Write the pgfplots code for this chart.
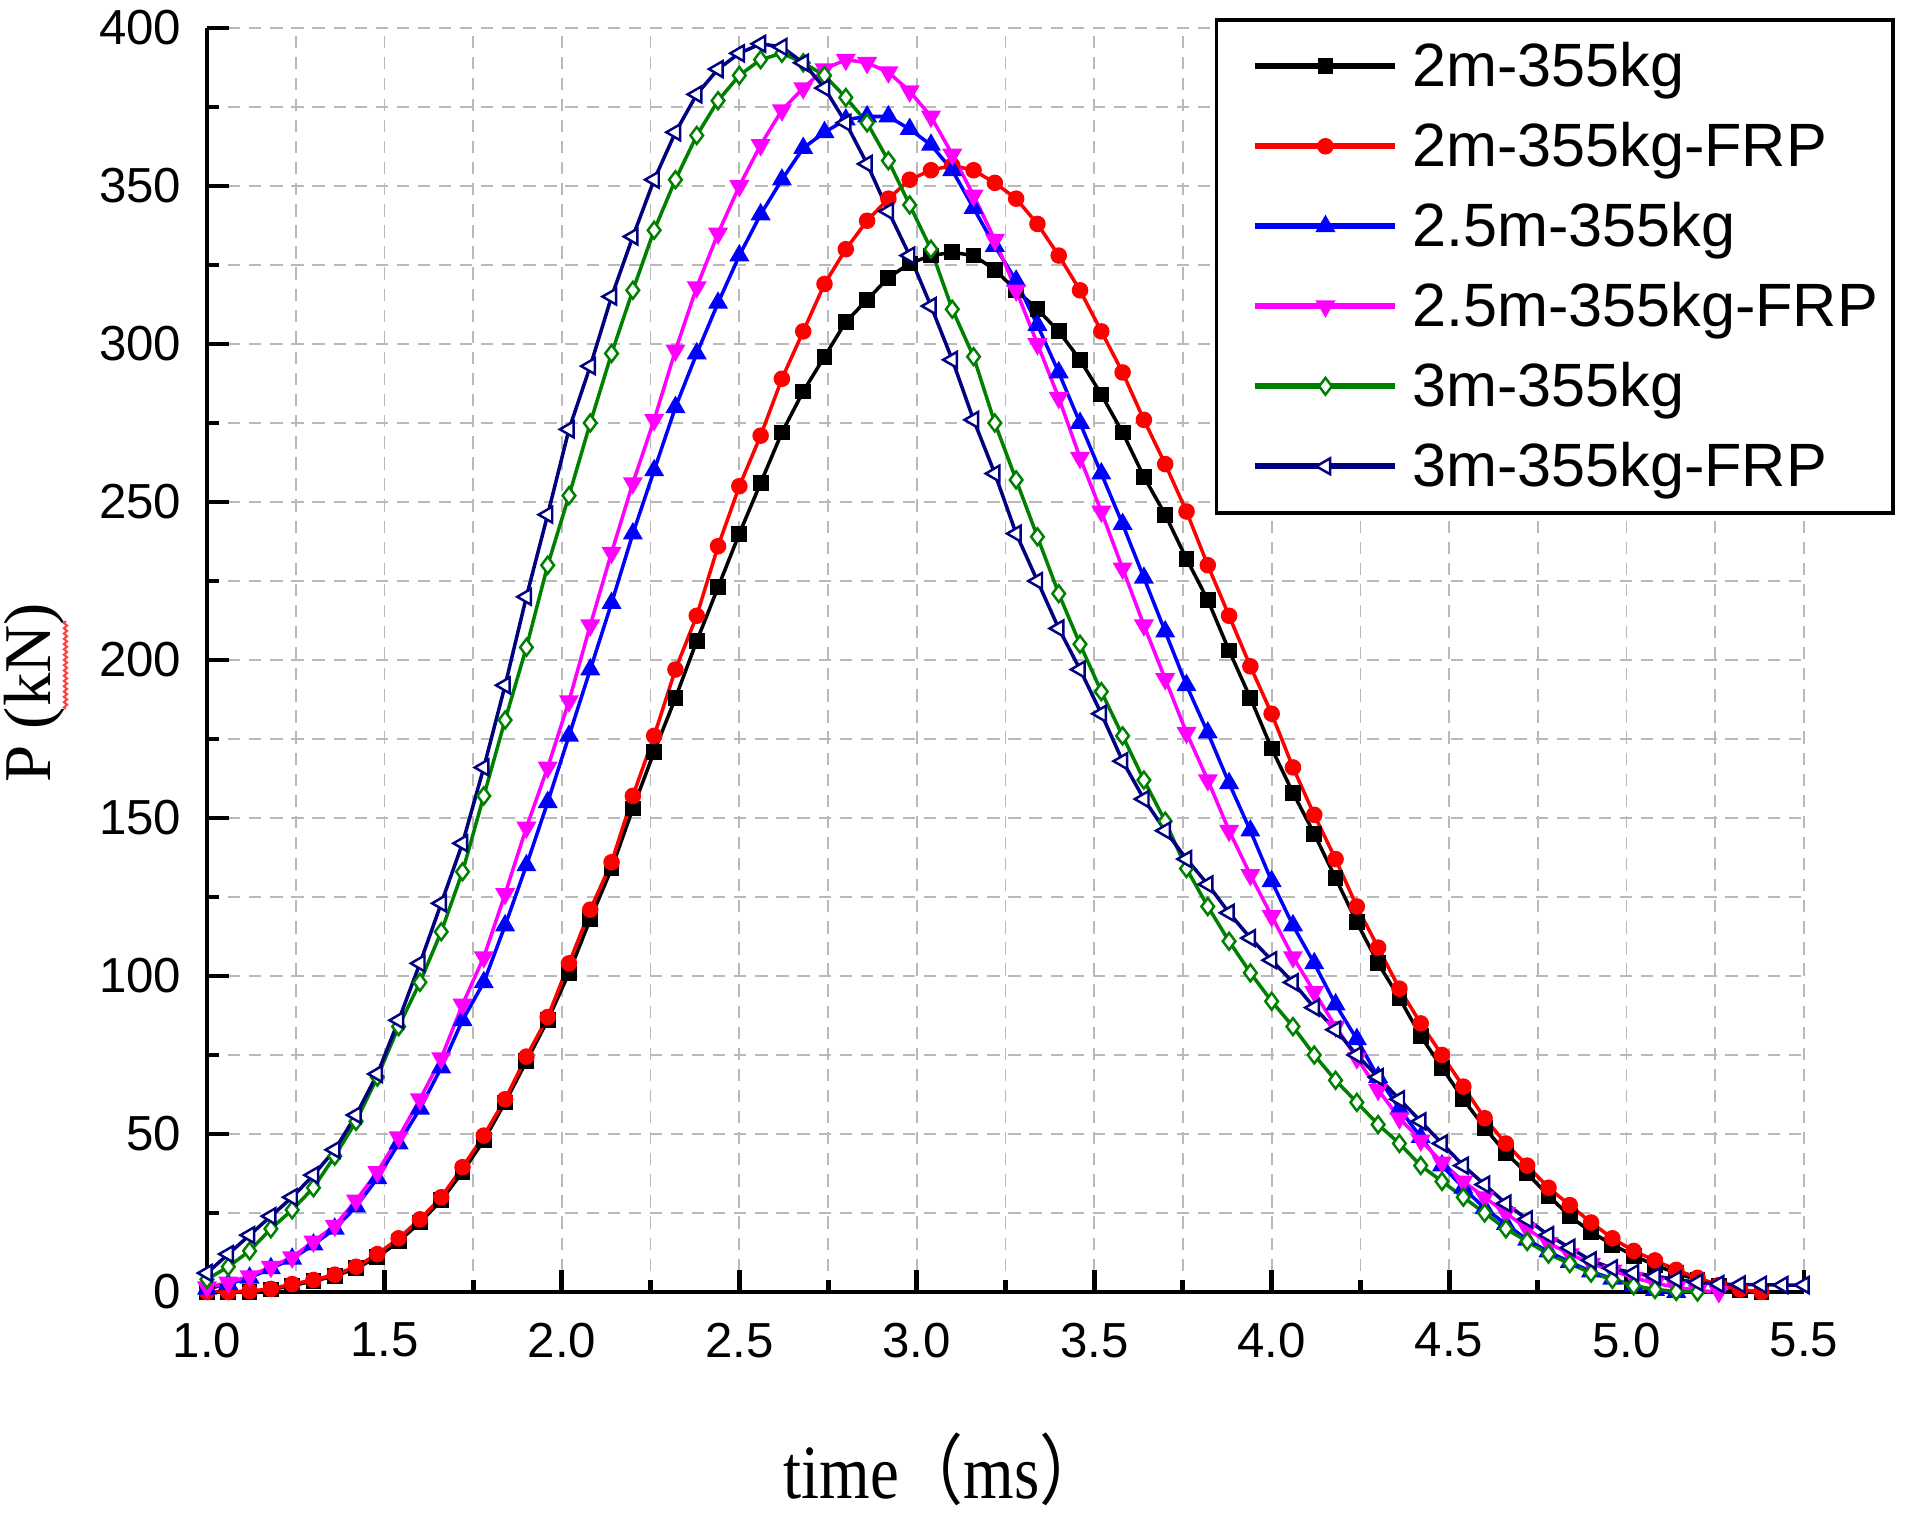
\documentclass[border=0pt]{standalone}
\usepackage{fontspec}
\setmainfont{Liberation Serif}
\newfontfamily\arial{Liberation Sans}
\newfontfamily\cjk{Noto Sans CJK SC}
\usepackage{pgfplots}
\pgfplotsset{compat=1.18}
\usepackage{pgfplotstable}
\usetikzlibrary{decorations.pathmorphing}
\definecolor{dgreen}{RGB}{0,128,0}
\definecolor{navy}{RGB}{0,0,128}
\definecolor{mag}{RGB}{255,0,255}
\definecolor{pblue}{RGB}{0,0,255}
\definecolor{pred}{RGB}{255,0,0}

\pgfplotstableread{
t     a     b     c     d     e     f
1.00  0     0     1     1.5   4     6
1.06  0     0     2.5   3     8     12
1.12  0     0.3   4.5   5     13    18
1.18  0.8   1     7.5   8     20    24
1.24  2     2.5   10.5  11    26    30
1.30  3.5   3.8   15    16    33    37
1.36  5     5.5   20    21    43    45
1.42  7.5   8     27    29    54    56
1.48  11    12    36    38    68    69
1.54  16    17    47    49    84    86
1.60  22    23    58    61    98    104
1.66  29    30    71    74    114   123
1.72  38    39.5  86    91    133   142
1.78  48    49.5  98    106   157   166
1.84  60    61    116   126   181   192
1.90  73    74.5  135   147   204   220
1.96  86    87    155   166   230   246
2.02  101   104   176   187   252   273
2.08  118   121   197   211   275   293
2.14  134   136   218   234   297   315
2.20  153   157   240   256   317   334
2.26  171   176   260   276   336   352
2.32  188   197   280   298   352   367
2.38  206   214   297   318   366   379
2.44  223   236   313   335   377   387
2.50  240   255   328   350   385   392
2.56  256   271   341   363   390   395
2.62  272   289   352   374   392   394
2.68  285   304   362   381   389   389
2.74  296   319   367   387   385   381
2.80  307   330   371   390   378   370
2.86  314   339   372   389   370   357
2.92  321   346   372   386   358   342
2.98  325.5 352   368   380   344   328
3.04  328   355   363   372   330   312
3.10  329   356.5 355   360   311   295
3.16  328   355   343   347   296   276
3.22  323.5 351   331   333   275   259
3.28  317   346   320   317   257   240
3.34  311   338   306   300   239   225
3.40  304   328   291   283   221   210
3.46  295   317   275   264   205   197
3.52  284   304   259   247   190   183
3.58  272   291   243   229   176   168
3.64  258   276   226   211   162   156
3.70  246   262   209   194   149   146
3.76  232   247   192   177   134   137
3.82  219   230   177   162   122   129
3.88  203   214   161   146   111   120
3.94  188   198   146   132   101   112
4.00  172   183   130   119   92    105
4.06  158   166   116   106   84    98
4.12  145   151   104   95    75    90
4.18  131   137   91    84    67    83
4.24  117   122   80    74    60    75
4.30  104   109   68    64    53    68
4.36  93    96    58    55    47    61
4.42  81    85    49    48    40    54
4.48  71    75    40    41    35    47
4.54  61    65    33    35    30    40
4.60  52    55    26.5  30    25    34
4.66  44    47    21.5  25    20    28
4.72  37.5  40    16.5  20    16    23
4.78  30.5  33    12.8  15.5  12    18
4.84  24    27.5  9.5   12    9     14
4.90  19    22    6.5   9     6     10
4.96  15    17    4.2   6.8   4     7.5
5.02  11.5  13    2     4.5   2     6
5.08  8.5   10    0.6   2.8   0.8   5
5.14  6     7     0     1.5   0.2   4
5.20  3.8   4.5   nan   0.5   0     3
5.26  2     2.2   nan   0     nan   2.5
5.32  0.5   0.8   nan   nan   nan   2.4
5.38  0     0     nan   nan   nan   2.3
5.44  nan   nan   nan   nan   nan   2.2
5.50  nan   nan   nan   nan   nan   2.2
}\data

\begin{document}
\begin{tikzpicture}
\path[use as bounding box] (0,0) rectangle (190.8mm,151.7mm);
\begin{axis}[
  at={(20.7mm,22.5mm)}, anchor=south west,
  scale only axis, width=159.7mm, height=126.4mm,
  xmin=1, xmax=5.5, ymin=0, ymax=400,
  xtick={1,1.5,...,5.5}, ytick={0,50,...,400},
  minor tick num=1,
  axis lines*=left,
  axis line style={line width=1.4pt, -},
  tick align=inside,
  major tick length=2.2mm, minor tick length=1.2mm,
  tick style={black, line width=1.4pt},
  grid=both,
  major grid style={gray!55, line width=0.5pt, dash pattern=on 3.5pt off 2.5pt},
  minor grid style={gray!55, line width=0.5pt, dash pattern=on 3.5pt off 2.5pt},
  /pgf/number format/assume math mode=true,
  ticklabel style={font=\arial\fontsize{14}{14}\selectfont, inner sep=0pt},
  yticklabel style={xshift=-2.5mm, /pgf/number format/.cd, fixed, precision=0},
  xticklabel style={yshift=-3mm, /pgf/number format/.cd, fixed, fixed zerofill, precision=1},
  xlabel={\scalebox{1}[1.18]{time{\cjk （}ms{\cjk ）}}},
  xlabel style={font=\fontsize{18.5}{18.5}\selectfont, at={(axis description cs:0.4615,-0.1405)}, anchor=center},
  ylabel={P (kN)},
  ylabel style={font=\fontsize{19}{19}\selectfont, at={(axis description cs:-0.1083,0.474)}, anchor=center},
  legend cell align=left,
  legend image code/.code={\path[draw=none,fill=none] (0,-0.5mm) rectangle (0.01mm,0.5mm);\draw[mark repeat=2,mark phase=2,#1,line width=1.6pt] plot coordinates {(2.4mm,0mm) (9.4mm,0mm) (16.4mm,0mm)};},
  legend style={at={(axis description cs:0.631,1.0079)}, anchor=north west,
    draw=black, line width=1pt, fill=white,
    font=\arial\fontsize{17.4}{17.4}\selectfont,
    inner xsep=1.5mm, inner ysep=1.2mm, row sep=1.1mm, column sep=1.4mm,
    nodes={inner sep=0pt, text height=5.5mm, text depth=1.4mm}},
]
\addplot[black, line width=1pt, mark=square*, mark size=1.9pt, mark options={solid, line width=0.7pt}] table[x=t, y=a]{\data};
\addlegendentry{2m-355kg}
\addplot[pred, line width=1pt, mark=*, mark size=2pt, mark options={solid, line width=0.7pt}] table[x=t, y=b]{\data};
\addlegendentry{2m-355kg-FRP}
\addplot[pblue, line width=1pt, mark=triangle*, mark size=2.6pt, mark options={solid, line width=0.7pt}] table[x=t, y=c]{\data};
\addlegendentry{2.5m-355kg}
\addplot[mag, line width=1pt, mark=triangle*, mark size=2.6pt, mark options={solid, rotate=180, line width=0.7pt}] table[x=t, y=d]{\data};
\addlegendentry{2.5m-355kg-FRP}
\addplot[dgreen, line width=1pt, mark=diamond*, mark size=2.4pt, mark options={solid, fill=white, line width=0.7pt}] table[x=t, y=e]{\data};
\addlegendentry{3m-355kg}
\addplot[navy, line width=1pt, mark=triangle*, mark size=2.6pt, mark options={solid, rotate=90, fill=white, line width=0.7pt}] table[x=t, y=f]{\data};
\addlegendentry{3m-355kg-FRP}
\end{axis}
\draw[red!75, line width=0.6pt, decorate, decoration={snake, amplitude=0.45pt, segment length=1.5pt}] (6.55mm,80.8mm) -- (6.55mm,89.6mm);
\end{tikzpicture}
\end{document}
